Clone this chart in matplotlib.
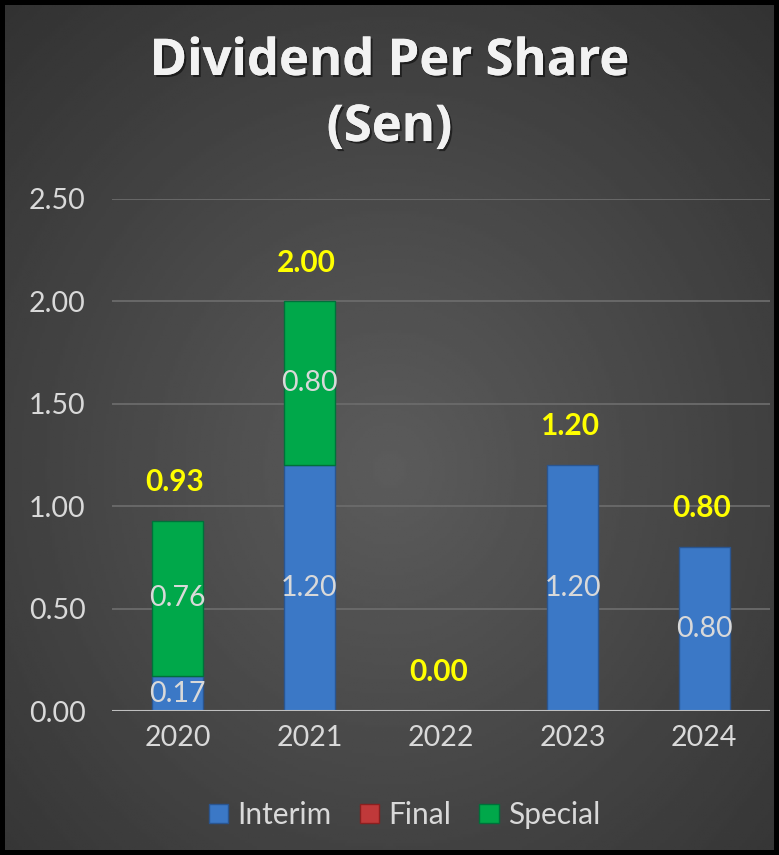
import numpy as np
import matplotlib
matplotlib.use("Agg")
import matplotlib.pyplot as plt
from matplotlib.patches import Patch
import matplotlib.patheffects as pe

years = ["2020", "2021", "2022", "2023", "2024"]
interim = [0.17, 1.20, 0.0, 1.20, 0.80]
final = [0.0, 0.0, 0.0, 0.0, 0.0]
special = [0.76, 0.80, 0.0, 0.0, 0.0]
totals = [0.93, 2.00, 0.00, 1.20, 0.80]
yticks = [0.0, 0.5, 1.0, 1.5, 2.0, 2.5]

FONT = "Lato"
c_int, c_fin, c_spe = "#3b78c6", "#c0393a", "#00a84a"
txt = "#d9d9d9"
FS = 20.5

fig = plt.figure(figsize=(7.79, 8.55), dpi=100)
fig.patch.set_facecolor("black")

# background gradient
bg = fig.add_axes([5/779, 5/855, 769/779, 845/855])
yy, xx = np.mgrid[0:1:300j, 0:1:300j]
r = np.sqrt((xx - 0.5) ** 2 + (yy - 0.55) ** 2)
bg.imshow(0.36 - 0.22 * r, cmap="gray", vmin=0, vmax=1, aspect="auto", extent=[0, 1, 0, 1])
bg.set_axis_off()

ax = fig.add_axes([112/779, 1 - 711/855, 658/779, 512/855])
ax.set_facecolor("none")
x = np.arange(len(years))
w = 0.39
b1 = ax.bar(x, interim, w, color=c_int, edgecolor="#2a5590", linewidth=1, label="Interim", zorder=3)
bot2 = np.array(interim)
b2 = ax.bar(x, final, w, bottom=bot2, color=c_fin, edgecolor="#8a2020", linewidth=1, label="Final", zorder=3)
bot3 = bot2 + np.array(final)
b3 = ax.bar(x, special, w, bottom=bot3, color=c_spe, edgecolor="#00703a", linewidth=1, label="Special", zorder=3)
for bars in (b1, b2, b3):
    for rect in bars:
        if rect.get_height() == 0:
            rect.set_visible(False)

for i in range(len(years)):
    if interim[i] > 0:
        ax.text(x[i], interim[i] / 2, f"{interim[i]:.2f}", ha="center", va="center",
                color=txt, fontsize=FS, family=FONT, zorder=5)
    if special[i] > 0:
        ax.text(x[i], bot3[i] + special[i] / 2, f"{special[i]:.2f}", ha="center", va="center",
                color=txt, fontsize=FS, family=FONT, zorder=5)
    ax.annotate(f"{totals[i]:.2f}", (x[i], totals[i]), xytext=(-2, 28), textcoords="offset points",
                ha="center", va="center", color="#ffff00", fontsize=21.5, fontweight="bold",
                family=FONT, zorder=5)

ax.set_ylim(0, 2.5)
ax.set_xlim(-0.5, len(years) - 0.5)
ax.set_yticks(yticks)
ax.set_yticklabels([f"{v:.2f}" for v in yticks], fontsize=FS, color=txt, family=FONT)
ax.set_xticks(x)
ax.set_xticklabels(years, fontsize=FS, color=txt, family=FONT)
ax.tick_params(length=0, pad=10)
ax.tick_params(axis="y", pad=19)
for v in yticks[1:]:
    ax.axhline(v, color="#6b6b6b", linewidth=1.3, zorder=1)
ax.axhline(0, color="#bfbfbf", linewidth=1.5, zorder=4)
for s in ax.spines.values():
    s.set_visible(False)

shadow = [pe.withSimplePatchShadow(offset=(1.5, -1.5), shadow_rgbFace="black", alpha=0.5), pe.Normal()]
fig.text(0.5, 1 - 62/855, "Dividend Per Share", ha="center", va="center", color="#f2f2f2",
         fontsize=36.5, fontweight="bold", family="Open Sans", path_effects=shadow)
fig.text(0.5, 1 - 128/855, "(Sen)", ha="center", va="center", color="#f2f2f2",
         fontsize=36.5, fontweight="bold", family="Open Sans", path_effects=shadow)

handles = [Patch(facecolor=c_int, edgecolor="#2a5590"), Patch(facecolor=c_fin, edgecolor="#8a2020"),
           Patch(facecolor=c_spe, edgecolor="#00703a")]
leg = fig.legend(handles, ["Interim", "Final", "Special"], loc="center", bbox_to_anchor=(0.519, 1 - 815/855),
                 ncol=3, frameon=False, handlelength=0.65, handleheight=0.65,
                 handletextpad=0.3, columnspacing=0.95, prop={"family": FONT, "size": 21.5})
for t in leg.get_texts():
    t.set_color(txt)

fig.savefig("out.png", dpi=100, facecolor=fig.get_facecolor())
